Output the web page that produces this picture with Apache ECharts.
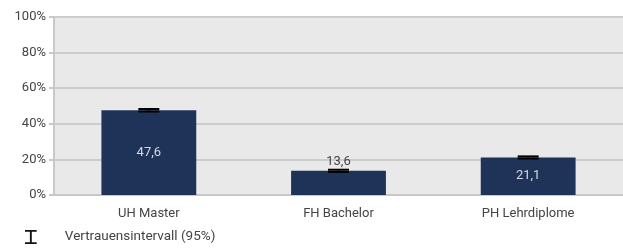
<!DOCTYPE html>
<html><head><meta charset="utf-8">
<script src="https://cdn.jsdelivr.net/npm/echarts@6/dist/echarts.min.js"></script>
<style>html,body{margin:0;padding:0;background:#fff}#c{width:623px;height:248px}</style>
</head><body><div id="c"></div>
<script>
const categories = ['UH Master', 'FH Bachelor', 'PH Lehrdiplome'];
const values = [47.6, 13.6, 21.1];
const ciLow = [46.9, 13.0, 20.5];
const ciHigh = [48.3, 14.2, 21.7];
const labelInside = [true, false, true];
const yTicks = [0, 20, 40, 60, 80, 100];
const legendName = 'Vertrauensintervall (95%)';

const chart = echarts.init(document.getElementById('c'), null, {renderer: 'canvas'});
const font = 'Roboto';
chart.setOption({
  animation: false,
  textStyle: {fontFamily: font},
  grid: {left: 54, right: 0, top: 17, bottom: 53, containLabel: false,
         show: true, backgroundColor: '#e9e9e9', borderWidth: 0},
  legend: {
    left: 25, top: 230, padding: 0, itemWidth: 12, itemHeight: 14, itemGap: 10,
    icon: 'path://M0,0 H10 V1.6 H5.8 V10.4 H10 V12 H0 V10.4 H4.2 V1.6 H0 Z',
    textStyle: {fontFamily: font, fontSize: 13.5, color: '#444', padding: [0,0,0,23]},
    data: [{name: legendName, itemStyle: {color: '#111'}}]
  },
  xAxis: {
    type: 'category', data: categories,
    axisLine: {show: true, lineStyle: {color: '#c8c8c8', width: 2}},
    axisTick: {show: false},
    axisLabel: {fontFamily: font, fontSize: 13, color: '#444', margin: 12}
  },
  yAxis: {
    type: 'value', min: yTicks[0], max: yTicks[yTicks.length-1], interval: 20,
    axisLine: {show: true, lineStyle: {color: '#c8c8c8', width: 2}},
    axisTick: {show: true, length: 5, lineStyle: {color: '#c8c8c8', width: 2}},
    splitLine: {lineStyle: {color: '#cccccc', width: 2}},
    axisLabel: {fontFamily: font, fontSize: 13, color: '#444', margin: 8, formatter: v => v + '%'}
  },
  series: [
    {
      type: 'bar', name: 'Anteil', barWidth: '50%',
      itemStyle: {color: '#1f3359'},
      data: values.map((v, i) => ({
        value: v,
        label: {
          show: true,
          position: labelInside[i] ? 'inside' : 'top',
          color: labelInside[i] ? '#d6d9e0' : '#444',
          distance: 3,
          fontFamily: font, fontSize: 13,
          formatter: p => String(p.value).replace('.', ',')
        }
      }))
    },
    {
      type: 'custom', name: legendName, z: 10,
      data: categories.map((c, i) => [i, ciLow[i], ciHigh[i]]),
      renderItem: (params, api) => {
        const x = api.coord([api.value(0), 0])[0];
        const lo = api.coord([api.value(0), api.value(1)])[1];
        const hi = api.coord([api.value(0), api.value(2)])[1];
        const hw = 10.5;
        const st = {stroke: '#000', lineWidth: 2};
        return {type: 'group', children: [
          {type: 'line', shape: {x1: x, y1: lo, x2: x, y2: hi}, style: {stroke: '#000', lineWidth: 1.5}},
          {type: 'line', shape: {x1: x - hw, y1: lo, x2: x + hw, y2: lo}, style: st},
          {type: 'line', shape: {x1: x - hw, y1: hi, x2: x + hw, y2: hi}, style: st}
        ]};
      }
    }
  ]
});
</script></body></html>
